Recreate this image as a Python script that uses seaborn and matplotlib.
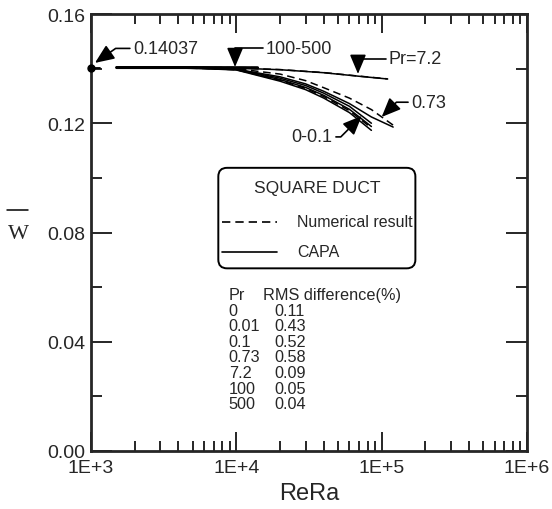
import numpy as np
import pandas as pd
import matplotlib
matplotlib.use("Agg")
import matplotlib.pyplot as plt
import seaborn as sns
from matplotlib.ticker import FixedLocator, FixedFormatter, LogLocator, NullFormatter, MultipleLocator
from matplotlib.patches import FancyBboxPatch

# ---------------- data ----------------
limit_value = 0.14037

x_low = [1500, 3000, 6000, 10000, 20000, 30000, 40000, 60000, 85000]
capa_pr0 = [0.14040, 0.14035, 0.14000, 0.13950, 0.13540, 0.13230, 0.12920, 0.12390, 0.11740]
capa_pr001 = [0.14040, 0.14035, 0.14008, 0.13965, 0.13600, 0.13310, 0.13020, 0.12510, 0.11880]
capa_pr01 = [0.14040, 0.14035, 0.14012, 0.13975, 0.13650, 0.13380, 0.13100, 0.12620, 0.12000]
num_pr0 = [0.14040, 0.14035, 0.14005, 0.13960, 0.13575, 0.13275, 0.12975, 0.12460, 0.11830]

x_073 = [1500, 3000, 6000, 10000, 20000, 30000, 40000, 60000, 85000, 120000]
capa_pr073 = [0.14040, 0.14035, 0.14015, 0.13980, 0.13700, 0.13440, 0.13170, 0.12720, 0.12230, 0.11860]
num_pr073 = [0.14040, 0.14036, 0.14022, 0.13998, 0.13800, 0.13560, 0.13300, 0.12920, 0.12500, 0.11930]

x_72 = [1500, 3000, 10000, 20000, 40000, 70000, 110000]
capa_pr72 = [0.14040, 0.14040, 0.14020, 0.13960, 0.13850, 0.13720, 0.13620]
num_pr72 = [0.14040, 0.14040, 0.14022, 0.13965, 0.13855, 0.13725, 0.13625]

x_hi = [1500, 5000, 14000]
capa_pr100 = [0.14040, 0.14040, 0.14032]
num_pr100 = [0.14042, 0.14042, 0.14036]

x_ticks = [1e3, 1e4, 1e5, 1e6]
x_ticklabels = ["1E+3", "1E+4", "1E+5", "1E+6"]
y_ticks = [0.00, 0.04, 0.08, 0.12, 0.16]
y_ticklabels = ["0.00", "0.04", "0.08", "0.12", "0.16"]

table_pr = ["0", "0.01", "0.1", "0.73", "7.2", "100", "500"]
table_rms = ["0.11", "0.43", "0.52", "0.58", "0.09", "0.05", "0.04"]

# ---------------- figure ----------------
sns.set_style("ticks")
plt.rcParams["font.family"] = ["Liberation Sans", "DejaVu Sans"]

fig = plt.figure(figsize=(5.52, 5.10), dpi=100)
ax = fig.add_axes([91/552, 58/510, 436/552, 437/510])

solid_kw = dict(color="black", linewidth=1.1, ax=ax, legend=False)
dash_kw = dict(color="black", linewidth=1.1, ax=ax, legend=False)

for xs, ys in [(x_low, capa_pr0), (x_low, capa_pr001), (x_low, capa_pr01),
               (x_073, capa_pr073), (x_72, capa_pr72), (x_hi, capa_pr100)]:
    sns.lineplot(x=xs, y=ys, **solid_kw)
for xs, ys in [(x_low, num_pr0), (x_073, num_pr073), (x_72, num_pr72), (x_hi, num_pr100)]:
    l = sns.lineplot(x=xs, y=ys, **dash_kw)
    l.lines[-1].set_dashes((5, 3))

# heavier overlap of the 100-500 curves
ax.lines[5].set_linewidth(2.2)

# limit point
ax.plot([1000], [limit_value], "o", color="black", markersize=5, clip_on=False, zorder=5)
ax.plot([1050, 1160], [limit_value, limit_value], color="black", linewidth=1.3)

ax.set_xscale("log")
ax.set_xlim(1e3, 1e6)
ax.set_ylim(0, 0.16)

ax.xaxis.set_major_locator(FixedLocator(x_ticks))
ax.xaxis.set_major_formatter(FixedFormatter(x_ticklabels))
ax.xaxis.set_minor_locator(LogLocator(base=10, subs=np.arange(2, 10)))
ax.xaxis.set_minor_formatter(NullFormatter())
ax.yaxis.set_major_locator(FixedLocator(y_ticks))
ax.yaxis.set_major_formatter(FixedFormatter(y_ticklabels))
ax.yaxis.set_minor_locator(MultipleLocator(0.02))

ax.tick_params(axis="both", which="both", direction="in", top=True, right=True, width=1.4)
ax.tick_params(axis="y", which="major", length=15, labelsize=14, pad=4)
ax.tick_params(axis="y", which="minor", length=8)
ax.tick_params(axis="x", which="major", length=14, labelsize=14, pad=6)
ax.tick_params(axis="x", which="minor", length=7)
for s in ax.spines.values():
    s.set_linewidth(2)
    s.set_visible(True)

ax.set_xlabel("ReRa", fontsize=17, labelpad=4)

# y label: W with a bar above it (serif)
ax.text(-0.167, 0.497, "W", transform=ax.transAxes, ha="center", va="center",
        fontsize=16, family=["Liberation Serif", "DejaVu Serif"])
ax.plot([-0.193, -0.145], [0.551, 0.551], transform=ax.transAxes, color="black",
        lw=1.1, clip_on=False)

# annotations
arrow = dict(arrowstyle="-|>,head_length=0.9,head_width=0.38", color="black", lw=1.2,
             shrinkA=0, shrinkB=0)
ax.annotate("0.14037", xy=(1065, 0.1421), xytext=(1950, 0.1474), fontsize=13, va="center", ha="left",
            arrowprops=dict(**arrow, connectionstyle="angle,angleA=0,angleB=35,rad=0",
                            relpos=(0, 0.5)))
ax.annotate("100-500", xy=(9800, 0.1406), xytext=(16000, 0.1474), fontsize=13, va="center", ha="left",
            arrowprops=dict(**arrow, connectionstyle="angle,angleA=0,angleB=90,rad=0",
                            relpos=(0, 0.5)))
ax.annotate("Pr=7.2", xy=(68700, 0.1381), xytext=(112000, 0.1437), fontsize=13, va="center", ha="left",
            arrowprops=dict(**arrow, connectionstyle="angle,angleA=0,angleB=90,rad=0",
                            relpos=(0, 0.5)))
ax.annotate("0.73", xy=(100000, 0.1223), xytext=(160000, 0.1277), fontsize=13, va="center", ha="left",
            arrowprops=dict(**arrow, connectionstyle="angle,angleA=0,angleB=45,rad=0",
                            relpos=(0, 0.5)))
ax.annotate("0-0.1", xy=(73000, 0.1227), xytext=(46000, 0.1150), fontsize=13, va="center", ha="right",
            arrowprops=dict(**arrow, connectionstyle="angle,angleA=0,angleB=45,rad=0",
                            relpos=(1, 0.5)))

# legend box
box = FancyBboxPatch((0.292, 0.418), 0.452, 0.230, boxstyle="round,pad=0,rounding_size=0.02",
                     transform=ax.transAxes, facecolor="white", edgecolor="black", linewidth=1.4,
                     zorder=4)
ax.add_patch(box)
ax.text(0.518, 0.603, "SQUARE DUCT", transform=ax.transAxes, ha="center", va="center",
        fontsize=12.5, zorder=5)
ax.plot([0.30, 0.427], [0.525, 0.525], transform=ax.transAxes, color="black", lw=1.2,
        dashes=(5, 3), zorder=5)
ax.text(0.472, 0.525, "Numerical result", transform=ax.transAxes, ha="left", va="center",
        fontsize=11.5, zorder=5)
ax.plot([0.30, 0.427], [0.456, 0.456], transform=ax.transAxes, color="black", lw=1.2, zorder=5)
ax.text(0.472, 0.456, "CAPA", transform=ax.transAxes, ha="left", va="center",
        fontsize=11.5, zorder=5)

# table
row_y0 = 0.358
dy = 0.0357
ax.text(0.316, row_y0, "Pr", transform=ax.transAxes, ha="left", va="center", fontsize=11.7)
ax.text(0.395, row_y0, "RMS difference(%)", transform=ax.transAxes, ha="left", va="center", fontsize=11.7)
for i, (p, r) in enumerate(zip(table_pr, table_rms)):
    yy = row_y0 - (i + 1) * dy
    ax.text(0.316, yy, p, transform=ax.transAxes, ha="left", va="center", fontsize=11.7)
    ax.text(0.42, yy, r, transform=ax.transAxes, ha="left", va="center", fontsize=11.7)

fig.savefig("out.png", dpi=100, facecolor="white")
